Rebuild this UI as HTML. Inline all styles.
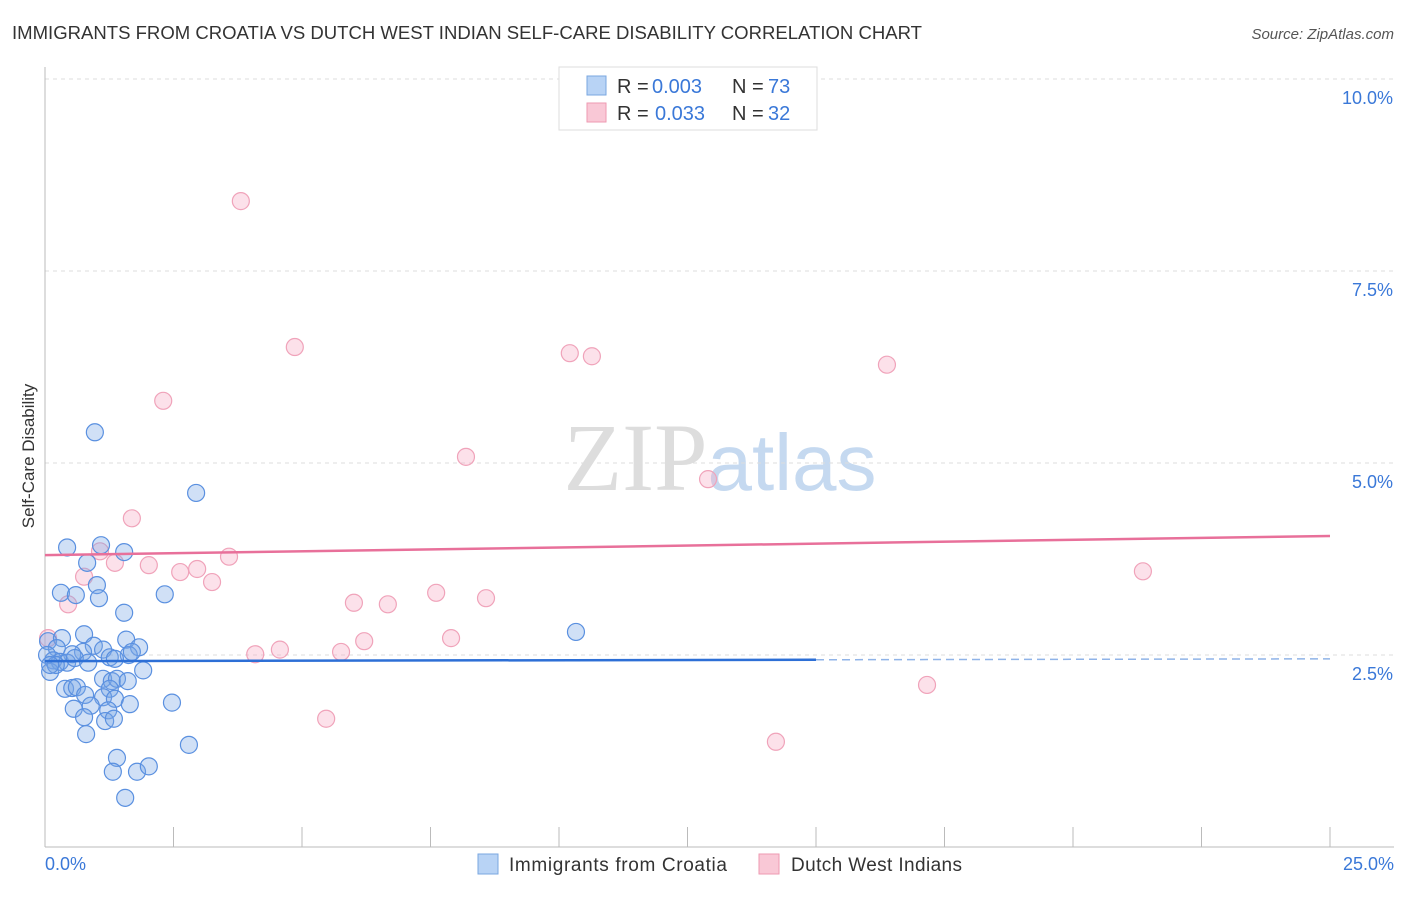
<!DOCTYPE html>
<html><head><meta charset="utf-8"><style>
body{margin:0;background:#fff;font-family:"Liberation Sans",sans-serif;}
</style></head><body>
<svg id="chart" width="1406" height="892" xmlns="http://www.w3.org/2000/svg" font-family="Liberation Sans, sans-serif">
<text x="12" y="39" font-size="18" fill="#333" textLength="910" lengthAdjust="spacingAndGlyphs">IMMIGRANTS FROM CROATIA VS DUTCH WEST INDIAN SELF-CARE DISABILITY CORRELATION CHART</text>
<text x="1394" y="39" font-size="15" fill="#555" text-anchor="end" font-style="italic">Source: ZipAtlas.com</text>
<text x="720" y="490" font-size="96" text-anchor="middle" fill="#ddd" font-family="Liberation Serif, serif">ZIP<tspan fill="#c5d9f0" font-family="Liberation Sans, sans-serif" font-size="80">atlas</tspan></text>
<text transform="translate(34,456) rotate(-90)" font-size="17" fill="#333" text-anchor="middle">Self-Care Disability</text>
<g id="grid"></g><g id="axes"></g><g id="marks"></g>
<g>
<rect x="559" y="67" width="258" height="63" fill="#fff" stroke="#ddd"/>
<rect x="587" y="76" width="19" height="19" fill="#b8d3f5" stroke="#7aa7e0"/>
<text x="617" y="93" font-size="20" fill="#333">R =</text>
<text x="652" y="93" font-size="20" fill="#3a78d8">0.003</text>
<text x="732" y="93" font-size="20" fill="#333">N =</text>
<text x="768" y="93" font-size="20" fill="#3a78d8">73</text>
<rect x="587" y="103" width="19" height="19" fill="#f9c8d6" stroke="#ee9ab2"/>
<text x="617" y="120" font-size="20" fill="#333">R =</text>
<text x="655" y="120" font-size="20" fill="#3a78d8">0.033</text>
<text x="732" y="120" font-size="20" fill="#333">N =</text>
<text x="768" y="120" font-size="20" fill="#3a78d8">32</text>
</g>
<g>
<rect x="478" y="854" width="20" height="20" fill="#b8d3f5" stroke="#7aa7e0"/>
<text x="509" y="871" font-size="19" fill="#333" textLength="218">Immigrants from Croatia</text>
<rect x="759" y="854" width="20" height="20" fill="#f9c8d6" stroke="#ee9ab2"/>
<text x="791" y="871" font-size="19" fill="#333" textLength="171">Dutch West Indians</text>
</g>
</svg>
<script>
const blueX=[0.97,2.94,0.43,1.09,1.54,0.82,1.01,0.31,0.60,1.05,2.33,1.54,10.33,0.76,1.58,1.83,0.95,0.06,0.33,0.23,1.13,0.74,0.53,0.04,0.16,0.29,0.43,0.58,0.84,1.63,1.69,1.26,1.36,1.91,0.10,0.39,0.53,0.62,1.13,1.30,1.40,1.26,1.61,0.78,1.13,1.36,2.47,0.56,0.89,1.65,1.23,0.76,1.17,1.34,0.80,2.80,1.40,1.32,1.79,2.02,1.56,0.21,0.10];
const blueY=[5.40,4.61,3.90,3.93,3.84,3.70,3.41,3.31,3.28,3.24,3.29,3.05,2.80,2.77,2.70,2.60,2.62,2.68,2.72,2.59,2.57,2.54,2.51,2.50,2.43,2.41,2.40,2.46,2.40,2.50,2.54,2.47,2.45,2.30,2.28,2.06,2.07,2.08,2.19,2.16,2.19,2.06,2.16,1.98,1.95,1.93,1.88,1.80,1.84,1.86,1.78,1.69,1.64,1.67,1.47,1.33,1.16,0.98,0.98,1.05,0.64,2.37,2.37];
const pinkX=[3.81,4.86,2.30,8.19,10.21,10.64,16.38,12.90,1.69,1.07,1.36,2.02,2.63,2.96,3.58,3.25,0.76,0.45,21.36,6.01,6.67,7.61,8.58,6.21,7.90,4.09,4.57,5.76,5.47,17.16,14.22,0.06];
const pinkY=[8.41,6.51,5.81,5.08,6.43,6.39,6.28,4.79,4.28,3.85,3.70,3.67,3.58,3.62,3.78,3.45,3.52,3.16,3.59,3.18,3.16,3.31,3.24,2.68,2.72,2.51,2.57,2.54,1.67,2.11,1.37,2.72];
const blueTrend=[2.42,2.45];
const pinkTrend=[3.80,4.05];
const yTicks=[2.5,5.0,7.5,10.0];
const xTickLabels=["0.0%","25.0%"];
const NS="http://www.w3.org/2000/svg";
const sx=v=>45+v/25*1285, sy=v=>847-v*76.8;
function mk(tag,attrs,parent){const e=document.createElementNS(NS,tag);for(const k in attrs)e.setAttribute(k,attrs[k]);document.getElementById(parent).appendChild(e);return e;}
yTicks.forEach(t=>{
 const l=mk('line',{x1:45,x2:1394,y1:sy(t),y2:sy(t),stroke:'#ddd','stroke-dasharray':'4,4'},'grid');
 
 
 const tx=mk('text',{x:1393,y:sy(t)+25,'font-size':18,fill:'#3a78d8','text-anchor':'end'},'axes');
 tx.textContent=t.toFixed(1)+'%';
 
 
});
const ya=mk('line',{x1:45,x2:45,y1:67,y2:847,stroke:'#bbb'},'axes');


const xa=mk('line',{x1:45,x2:1394,y1:847,y2:847,stroke:'#bbb'},'axes');


for(let i=1;i<=10;i++){const t=mk('line',{x1:sx(i*2.5),x2:sx(i*2.5),y1:827,y2:847,stroke:'#bbb'},'axes');
 
 }
[[0,'start',45],[25,'end',1394]].forEach((p,i)=>{const t=mk('text',{x:p[2],y:870,'font-size':18,fill:'#3a78d8','text-anchor':p[1]},'axes');t.textContent=xTickLabels[i];
 
 });
pinkX.forEach((x,i)=>{const c=mk('circle',{cx:sx(x),cy:sy(pinkY[i]),r:8.5,fill:'rgba(245,170,195,0.35)',stroke:'#f0a3ba','stroke-width':1.2},'marks');
 
 });
blueX.forEach((x,i)=>{const c=mk('circle',{cx:sx(x),cy:sy(blueY[i]),r:8.5,fill:'rgba(120,165,230,0.35)',stroke:'#5a90e0','stroke-width':1.2},'marks');
 
 });
const bEnd=15;
const bm=blueTrend[0]+(blueTrend[1]-blueTrend[0])*(bEnd/25);
const b1=mk('line',{x1:sx(0),y1:sy(blueTrend[0]),x2:sx(bEnd),y2:sy(bm),stroke:'#2d6fd6','stroke-width':2.5},'marks');


const b2=mk('line',{x1:sx(bEnd),y1:sy(bm),x2:sx(25),y2:sy(blueTrend[1]),stroke:'#8fb3e8','stroke-width':1.5,'stroke-dasharray':'8,5'},'marks');


const p1=mk('line',{x1:sx(0),y1:sy(pinkTrend[0]),x2:sx(25),y2:sy(pinkTrend[1]),stroke:'#e8709a','stroke-width':2.5},'marks');


</script>
</body></html>
